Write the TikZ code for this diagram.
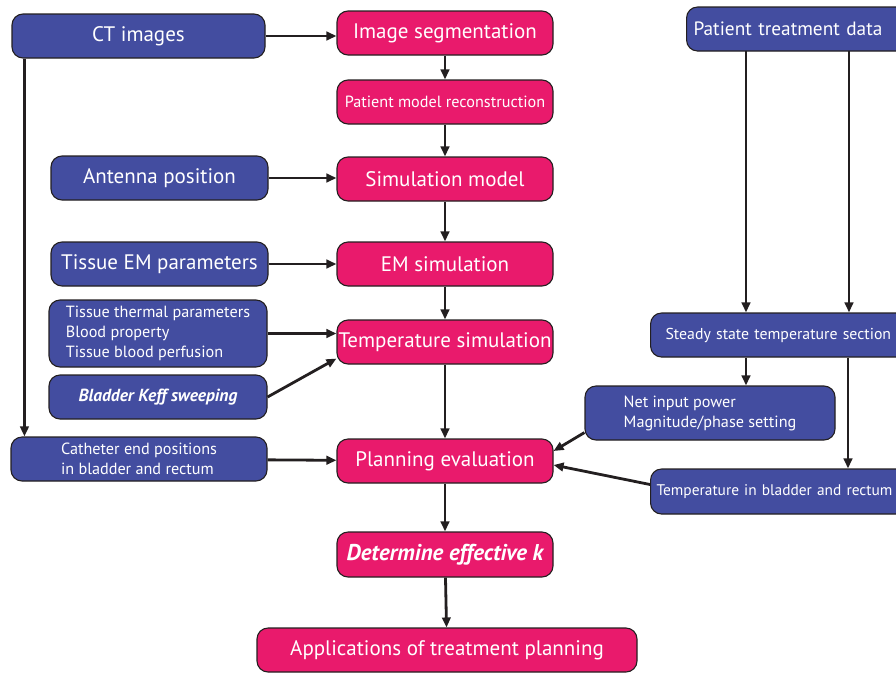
\documentclass[tikz,border=0pt]{standalone}
\usepackage{fontspec}
\setmainfont{PT Sans}
\usetikzlibrary{arrows.meta}
\definecolor{bbox}{HTML}{434DA0}
\definecolor{pbox}{HTML}{E91A6C}
\definecolor{ink}{HTML}{231F20}
\begin{document}
\begin{tikzpicture}[x=1pt,y=-1pt,
  base/.style={draw=ink,line width=1.1pt,rounded corners=11pt,text=white,inner sep=0pt,anchor=center},
  bluebox/.style={base,fill=bbox},
  pinkbox/.style={base,fill=pbox},
  big/.style={font=\fontsize{21}{24}\selectfont},
  small/.style={font=\fontsize{16.2}{20}\selectfont},
  conn/.style={draw=ink,line width=2.8pt},
  arr/.style={conn,-{Triangle[length=10pt,width=8.5pt]}}]
\useasboundingbox (0,0) rectangle (896,675);
\clip (0,0) rectangle (896,675);
% blue boxes
\node[bluebox,big,minimum width=253pt,minimum height=44pt] (ct) at (138.5,36) {CT images};
\node[bluebox,big,minimum width=217pt,minimum height=44pt] (ant) at (159.5,178) {Antenna position};
\node[bluebox,big,minimum width=217pt,minimum height=44pt] (tem) at (159.5,264) {Tissue EM parameters};
\node[bluebox,small,minimum width=218pt,minimum height=67pt,align=left] (therm) at (158,333.5) {Tissue thermal parameters\\Blood property\\Tissue blood perfusion};
\node[bluebox,font=\fontsize{17.5}{20}\selectfont,minimum width=218pt,minimum height=44pt] (keff) at (158,397) {\bfseries\itshape Bladder Keff sweeping};
\node[bluebox,small,minimum width=256pt,minimum height=44pt,align=left] (cath) at (139,459) {Catheter end positions\\in bladder and rectum};
\node[bluebox,font=\fontsize{19.3}{22}\selectfont,text width=216pt,inner xsep=7pt,minimum height=44pt,anchor=west,align=left] (ptd) at (686,29) {Patient treatment data};
\node[bluebox,font=\fontsize{15.8}{19}\selectfont,text width=240pt,inner xsep=15pt,minimum height=44pt,anchor=west,align=left] (ss) at (650,335) {Steady state temperature section};
\node[bluebox,small,minimum width=250pt,minimum height=54pt,align=left] (net) at (710,413) {Net input power\\Magnitude/phase setting};
\node[bluebox,font=\fontsize{15.4}{18}\selectfont,text width=250pt,inner xsep=6pt,minimum height=45pt,anchor=west,align=left] (tbr) at (650,491.5) {Temperature in bladder and rectum};
% pink boxes
\node[pinkbox,big,minimum width=216pt,minimum height=44pt] (seg) at (445,33) {Image segmentation};
\node[pinkbox,small,minimum width=216pt,minimum height=44pt] (rec) at (445,102) {Patient model reconstruction};
\node[pinkbox,big,minimum width=216pt,minimum height=44pt] (sim) at (445,179) {Simulation model};
\node[pinkbox,big,minimum width=216pt,minimum height=44pt] (em) at (445,264) {EM simulation};
\node[pinkbox,big,minimum width=216pt,minimum height=44pt] (tsim) at (445,342) {Temperature simulation};
\node[pinkbox,big,minimum width=216pt,minimum height=44pt] (plan) at (445,461) {Planning evaluation};
\node[pinkbox,font=\fontsize{22.8}{26}\selectfont,minimum width=216pt,minimum height=45pt] (det) at (445,554.5) {\bfseries\itshape Determine effective k};
\node[pinkbox,big,minimum width=380pt,minimum height=44pt] (app) at (447,650) {Applications of treatment planning};
% connectors
\draw[arr] (ct.east) -- (seg.west |- ct.east);
\draw[arr] (seg) -- (rec);
\draw[arr] (rec) -- (sim);
\draw[arr] (ant.east) -- (sim.west |- ant.east);
\draw[arr] (sim) -- (em);
\draw[arr] (tem) -- (em);
\draw[arr] (em) -- (tsim);
\draw[arr] (therm.east) -- (tsim.west |- therm.east);
\draw[arr] (keff.east) -- ([yshift=6pt]tsim.south west);
\draw[arr] ([xshift=13pt]ct.south west) -- ([xshift=14pt]cath.north west);
\draw[arr] (cath) -- (plan);
\draw[arr] (tsim) -- (plan);
\draw[arr] (plan) -- (det);
\draw[arr] (det) -- (app);
\coordinate (p1) at (746,51);
\coordinate (p2) at (849,51);
\coordinate (p3) at (848,0);
\draw[arr] (p1) -- (ss.north -| p1);
\draw[arr] (p2) -- (ss.north -| p2);
\draw[arr] (ss.south -| p1) -- (net.north -| p1);
\draw[arr] (ss.south -| p3) -- (tbr.north -| p3);
\draw[arr] ([yshift=8pt]net.south west) -- ([yshift=10pt]plan.east);
\draw[arr] ([yshift=7pt]tbr.west) -- ([yshift=-4pt]plan.east);
\end{tikzpicture}
\end{document}
